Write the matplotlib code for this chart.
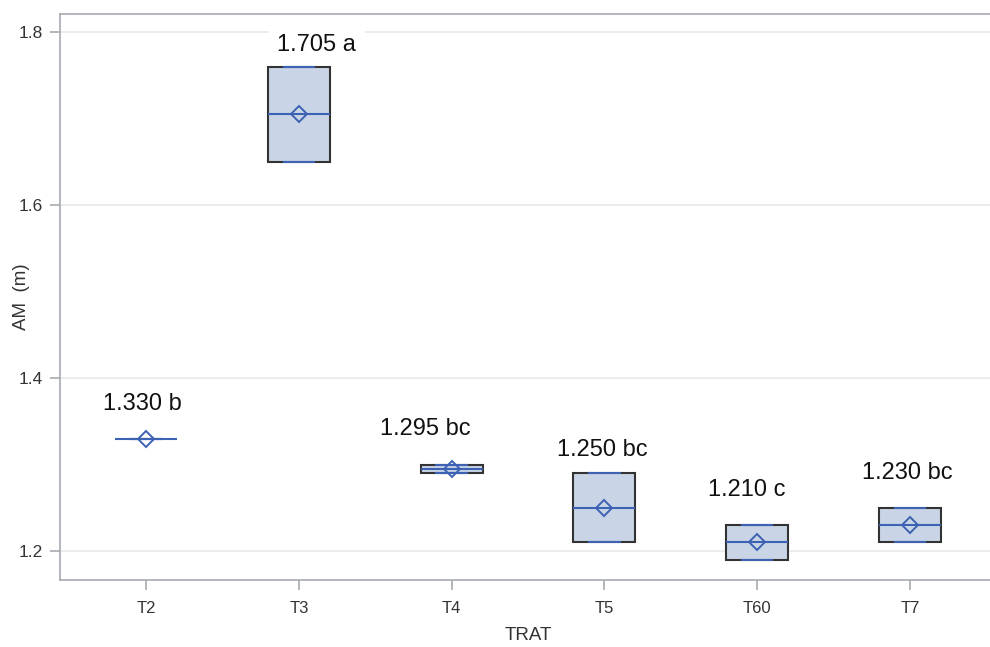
import numpy as np
import matplotlib
matplotlib.use("Agg")
import matplotlib.pyplot as plt

plt.rcParams['font.family'] = ['Liberation Sans', 'DejaVu Sans']

# two observations per treatment (min / max of the box)
trat = ['T2', 'T3', 'T4', 'T5', 'T60', 'T7']
obs_lo = [1.33, 1.65, 1.29, 1.21, 1.19, 1.21]
obs_hi = [1.33, 1.76, 1.30, 1.29, 1.23, 1.25]
letters = ['b', 'a', 'bc', 'bc', 'c', 'bc']

# label nudges (pixels) relative to box top
lab_dx = [-4, 18, -26, -2, -10, -3]
lab_dy = [35, 22, 36, 23, 35, 35]

blue = '#3d62b3'
face = '#c9d5e6'
edge = '#333333'
axcol = '#a7abb0'

stats = []
for lo, hi in zip(obs_lo, obs_hi):
    m = (lo + hi) / 2
    stats.append({'med': m, 'q1': lo, 'q3': hi, 'whislo': lo, 'whishi': hi,
                  'mean': m, 'fliers': []})

fig = plt.figure(figsize=(9.9, 6.47), dpi=100)
ax = fig.add_axes([60/990, 1-580/647, 936/990, 566/647])

pos = np.arange(len(trat))
bp = ax.bxp(stats, positions=pos, widths=0.405, capwidths=0.2,
            patch_artist=True, showmeans=True, showfliers=False,
            boxprops=dict(facecolor=face, edgecolor=edge, linewidth=1.5),
            medianprops=dict(color=blue, linewidth=1.5),
            whiskerprops=dict(color=blue, linewidth=1.5),
            capprops=dict(color=blue, linewidth=1.5),
            meanprops=dict(marker='D', markersize=8, markerfacecolor='none',
                           markeredgecolor=blue, markeredgewidth=1.4))
for b, lo, hi in zip(bp['boxes'], obs_lo, obs_hi):
    if lo == hi:
        b.set_edgecolor('none')
for c in bp['caps']:
    c.set_zorder(3)
for mline in bp['medians']:
    mline.set_zorder(3)
for mk in bp['means']:
    mk.set_zorder(4)

for i, s in enumerate(stats):
    ax.annotate(f"{s['mean']:.3f} {letters[i]}", (pos[i], s['q3']),
                xytext=(lab_dx[i], lab_dy[i]), textcoords='offset pixels',
                ha='center', va='center', fontsize=17, color='#111111',
                bbox=dict(facecolor='white', edgecolor='none', pad=6),
                zorder=2)

ax.set_xlim(-0.563, 5.563)
ax.set_ylim(1.1665, 1.8208)
ax.set_yticks([1.2, 1.4, 1.6, 1.8])
ax.set_yticklabels(['1.2', '1.4', '1.6', '1.8'])
ax.set_xticks(pos)
ax.set_xticklabels(trat)
ax.yaxis.grid(True, color='#e9e9e9', linewidth=1.2)
ax.set_axisbelow(True)

for sp in ax.spines.values():
    sp.set_color(axcol)
    sp.set_linewidth(1.2)
ax.tick_params(colors=axcol, labelcolor='#333333', length=7, width=1.2)
ax.tick_params(axis='y', labelsize=12.5, pad=5)
ax.tick_params(axis='x', labelsize=12, pad=8)

ax.set_xlabel('TRAT', fontsize=13.5, color='#333333', labelpad=8)
ax.set_ylabel('AM  (m)', fontsize=13.5, color='#333333')
ax.yaxis.set_label_coords(-0.0406, 0.5)
ax.yaxis.label.set_verticalalignment('center')

fig.savefig('out.png', dpi=100)
